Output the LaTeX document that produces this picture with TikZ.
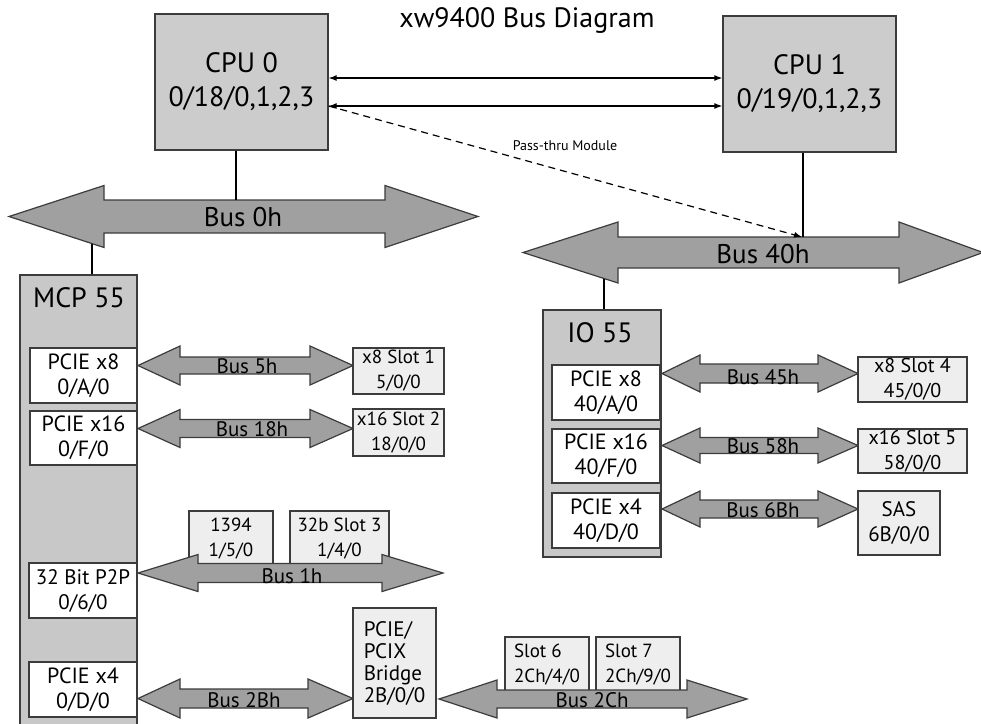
\documentclass[tikz,border=0pt]{standalone}
\usepackage{fontspec}
\setmainfont{PT Sans}
\usetikzlibrary{arrows.meta}
\definecolor{cpugray}{RGB}{204,204,204}
\definecolor{chipgray}{RGB}{200,200,200}
\definecolor{busgray}{RGB}{160,160,160}
\definecolor{slotgray}{RGB}{238,238,238}
\definecolor{edgegray}{RGB}{60,60,60}
% #1 left tip x, #2 right tip x, #3 centre y, #4 shaft half height, #5 head half height, #6 left head base x, #7 right head base x
\newcommand{\busarrow}[7]{%
  \filldraw[busshape] (#1,#3) -- (#6,#3-#5) -- (#6,#3-#4) -- (#7,#3-#4) -- (#7,#3-#5) -- (#2,#3)
    -- (#7,#3+#5) -- (#7,#3+#4) -- (#6,#3+#4) -- (#6,#3+#5) -- cycle;}
\begin{document}
\begin{tikzpicture}[x=1pt,y=-1pt,
  box/.style={draw=edgegray,line width=1.3pt,inner sep=0pt,align=center},
  cpubox/.style={box,fill=cpugray,font=\fontsize{28}{34}\selectfont},
  chip/.style={box,fill=chipgray},
  chiplabel/.style={font=\fontsize{28}{28}\selectfont,inner sep=0pt},
  portbox/.style={box,fill=white,font=\fontsize{22}{25}\selectfont},
  slotbox/.style={box,fill=slotgray,font=\fontsize{19}{25}\selectfont},
  rslotbox/.style={box,fill=slotgray,font=\fontsize{20}{25}\selectfont},
  busshape/.style={fill=busgray,draw=edgegray,line width=1.2pt},
  buslabel/.style={font=\fontsize{21}{21}\selectfont,inner sep=0pt},
  bigbuslabel/.style={font=\fontsize{27}{27}\selectfont,inner sep=0pt},
  link/.style={line width=2pt,black},
  cpulink/.style={line width=1.2pt,{Latex[length=8pt,width=6pt]}-{Latex[length=8pt,width=6pt]}},
  passlink/.style={line width=1.2pt,dashed,dash pattern=on 7pt off 5pt,-{Latex[length=8pt,width=6pt]}},
]
\useasboundingbox (0,0) rectangle (981,723);

% title
\node[font=\fontsize{28}{28}\selectfont,inner sep=0pt] (title) at (527,20) {xw9400 Bus Diagram};

% CPUs
\node[cpubox,minimum width=173,minimum height=136] (cpu0) at (241.5,82) {CPU 0\\0/18/0,1,2,3};
\node[cpubox,minimum width=173,minimum height=136] (cpu1) at (809.5,84) {CPU 1\\0/19/0,1,2,3};

\coordinate (ya) at (0,78);
\coordinate (yb) at (0,106);
\draw[cpulink] (cpu0.east |- ya) -- (cpu1.west |- ya);
\draw[cpulink] (cpu0.east |- yb) -- (cpu1.west |- yb);

% chips
\node[chip,minimum width=117,minimum height=470] (mcp) at (78.5,510) {};
\node[chiplabel] (mcplab) at (79,298) {MCP 55};
\node[chip,minimum width=118,minimum height=247] (io) at (602,433.5) {};
\node[chiplabel] (iolab) at (600,333) {IO 55};

% boxes lying under bus arrows
\node[slotbox,minimum width=84,minimum height=56] (s1394) at (231,539) {1394\\1/5/0};
\node[slotbox,minimum width=99,minimum height=56] (s3) at (339.5,539) {32b Slot 3\\1/4/0};
\node[slotbox,minimum width=84,minimum height=56,align=left] (s6) at (547,665) {Slot 6\\2Ch/4/0};
\node[slotbox,minimum width=84,minimum height=56,align=left] (s7) at (638,665) {Slot 7\\2Ch/9/0};

% bus arrows
\busarrow{9}{478}{216.5}{16.5}{31}{104}{385}
\busarrow{523}{983}{252.5}{15.5}{30.5}{618}{899}
\busarrow{138}{353}{365.5}{8.5}{19.5}{180}{310}
\busarrow{138}{353}{428.5}{9}{19}{180}{310}
\busarrow{138}{443}{573}{9.5}{18.5}{198}{382}
\busarrow{138}{353}{698.5}{9.5}{19.5}{180}{308}
\busarrow{439}{747}{699}{9}{19}{497}{687}
\busarrow{662}{858}{373.5}{9.5}{18.5}{700}{818}
\busarrow{662}{858}{445.5}{8}{17.5}{700}{818}
\busarrow{662}{858}{509}{9}{18}{700}{818}

% bus labels
\node[bigbuslabel] (b0) at (243,217) {Bus 0h};
\node[bigbuslabel] (b40) at (763,254) {Bus 40h};
\node[buslabel] (b5) at (247,366) {Bus 5h};
\node[buslabel] (b18) at (252,429) {Bus 18h};
\node[buslabel] (b1) at (292,576) {Bus 1h};
\node[buslabel] (b2b) at (244,700) {Bus 2Bh};
\node[buslabel] (b2c) at (592,700) {Bus 2Ch};
\node[buslabel] (b45) at (763,377) {Bus 45h};
\node[buslabel] (b58) at (763,446) {Bus 58h};
\node[buslabel] (b6b) at (763,510) {Bus 6Bh};

% ports in MCP 55
\node[portbox,minimum width=107,minimum height=55] (m8) at (83.5,375.5) {PCIE x8\\0/A/0};
\node[portbox,minimum width=107,minimum height=54] (m16) at (83.5,438) {PCIE x16\\0/F/0};
\node[portbox,minimum width=108,minimum height=55,font=\fontsize{21}{25}\selectfont] (mp2p) at (83,590.5) {32 Bit P2P\\0/6/0};
\node[portbox,minimum width=108,minimum height=55] (m4) at (83,689.5) {PCIE x4\\0/D/0};

% ports in IO 55
\node[portbox,minimum width=108,minimum height=55] (i8) at (606,392.5) {PCIE x8\\40/A/0};
\node[portbox,minimum width=108,minimum height=54] (i16) at (606,456) {PCIE x16\\40/F/0};
\node[portbox,minimum width=108,minimum height=55] (i4) at (606,520.5) {PCIE x4\\40/D/0};

% slots
\node[slotbox,minimum width=91,minimum height=46] (s1) at (398.5,371) {x8 Slot 1\\5/0/0};
\node[slotbox,minimum width=91,minimum height=47] (s2) at (398.5,432.5) {x16 Slot 2\\18/0/0};
\node[slotbox,minimum width=83,minimum height=110,align=left,font=\fontsize{21}{22}\selectfont] (bridge) at (394.5,663) {PCIE/\\PCIX\\Bridge\\2B/0/0};
\node[rslotbox,minimum width=109,minimum height=45] (s4) at (912.5,379.5) {x8 Slot 4\\45/0/0};
\node[rslotbox,minimum width=109,minimum height=44] (s5) at (912.5,451) {x16 Slot 5\\58/0/0};
\node[rslotbox,minimum width=82,minimum height=64,font=\fontsize{21}{25}\selectfont] (sas) at (899,523) {SAS\\6B/0/0};

% vertical links
\coordinate (b0top) at (236,200);
\coordinate (b40top) at (803,237);
\coordinate (b0low) at (92,243.6);
\coordinate (b40low) at (604,278.5);
\draw[link] (cpu0.south -| b0top) -- (b0top);
\draw[link] (cpu1.south -| b40top) -- (b40top);
\draw[link] (b0low) -- (b0low |- mcp.north);
\draw[link] (b40low) -- (b40low |- io.north);

% pass-thru
\coordinate (passend) at (802,237);
\draw[passlink] (cpu0.east |- yb) -- (passend);
\node[font=\fontsize{14}{14}\selectfont,inner sep=0pt] (passlab) at (565,146) {Pass-thru Module};
\end{tikzpicture}
\end{document}
